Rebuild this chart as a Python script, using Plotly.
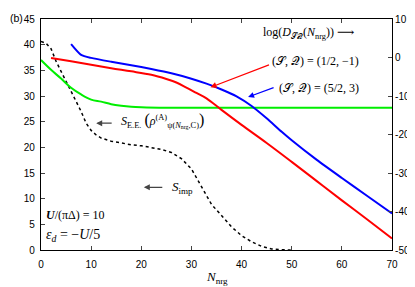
import plotly.graph_objects as go

# ---- data ----
red_n = [2, 6, 10, 14, 18, 22, 25, 27, 29, 31, 33, 36, 40, 45, 50, 55, 60, 65, 70]
red_logd = [-0.1, -1.0, -1.9, -2.8, -3.6, -4.5, -5.6, -6.5, -7.8, -9.2, -10.6, -13.6,
            -17.5, -22.2, -27.1, -32.1, -37.1, -42.0, -47.0]

blue_n = [6, 8, 10, 14, 18, 22, 26, 30, 33, 36, 39, 42, 45, 48, 50, 55, 60, 65, 70]
blue_logd = [3.5, 0.7, -0.1, -1.1, -2.0, -3.0, -4.1, -5.5, -6.8, -8.3, -10.1, -12.6,
             -15.8, -19.3, -21.5, -26.6, -31.3, -35.9, -40.5]

green_n = [0, 2, 4, 6, 8, 10, 12, 14, 16, 18, 20, 25, 30, 40, 50, 60, 70]
green_see = [37.0, 35.1, 33.4, 31.6, 30.3, 29.3, 28.9, 28.4, 28.1, 27.9, 27.8, 27.7,
             27.7, 27.7, 27.7, 27.7, 27.7]

simp_n = [0, 1, 2, 3, 4, 5, 6, 7, 8, 9, 10, 11, 12, 14, 16, 18, 20, 22, 24, 26, 28,
          30, 32, 34, 36, 38, 40, 42, 44, 46, 48, 50]
simp = [40.6, 40.3, 39.2, 36.8, 34.8, 32.9, 31.0, 29.0, 27.0, 24.7, 23.3, 22.4, 21.8,
        21.2, 20.8, 20.5, 20.3, 20.0, 19.6, 19.0, 17.8, 15.8, 12.2, 8.9, 6.7, 4.5,
        2.8, 1.6, 0.7, 0.2, 0.05, 0.0]

x_ticks = [0, 10, 20, 30, 40, 50, 60, 70]
yl_ticks = [0, 5, 10, 15, 20, 25, 30, 35, 40, 45]
yr_ticks = [-50, -40, -30, -20, -10, 0, 10]
yr_labels = ["-50", "-40", "-30", "-20", "-10", "0", "10"]

SERIF = "Liberation Serif, DejaVu Serif, serif"
SANS = "Liberation Sans, Arial, sans-serif"

fig = go.Figure()
fig.add_trace(go.Scatter(x=simp_n, y=simp, mode="lines", yaxis="y",
                         line=dict(color="black", width=1.5, dash="dot"), showlegend=False))
fig.add_trace(go.Scatter(x=green_n, y=green_see, mode="lines", yaxis="y",
                         line=dict(color="#00ee00", width=2, shape="spline"), showlegend=False))
fig.add_trace(go.Scatter(x=red_n, y=red_logd, mode="lines", yaxis="y2",
                         line=dict(color="#ff0000", width=2, shape="spline"), showlegend=False))
fig.add_trace(go.Scatter(x=blue_n, y=blue_logd, mode="lines", yaxis="y2",
                         line=dict(color="#0000ff", width=2, shape="spline", smoothing=0.6),
                         showlegend=False))

ann = []
def txt(x, y, s, size=12, xanchor="left", xref="x", yref="y"):
    ann.append(dict(x=x, y=y, xref=xref, yref=yref, text=s, showarrow=False,
                    xanchor=xanchor, yanchor="middle",
                    font=dict(family=SERIF, size=size, color="black")))

def arrow(x, y, ax, ay, color):
    ann.append(dict(x=x, y=y, xref="x", yref="y", ax=ax, ay=ay, axref="pixel", ayref="pixel",
                    text="", showarrow=True, arrowhead=2, arrowsize=1, arrowwidth=1.2,
                    arrowcolor=color))

txt(43.9, 42.2, "log(<i>D</i><sub>𝒮𝒬</sub>(<i>N</i><sub>nrg</sub>)) ⟶", 12)
txt(45.6, 36.85, "(𝒮, 𝒬) = (1/2, −1)", 12)
txt(47.0, 31.5, "(𝒮, 𝒬) = (5/2, 3)", 12)
txt(15.5, 25.3, "<i>S</i><sub>E.E.</sub> <span style='font-size:16px'>(</span><i>ρ</i><sup>(A)</sup><sub>ψ(<i>N</i><sub>nrg</sub>,C)</sub><span style='font-size:16px'>)</span>", 12)
txt(25.8, 12.2, "<i>S</i><sub>imp</sub>", 13)
txt(0.5, 6.8, "<b><i>U</i></b>/(πΔ) = 10", 12)
txt(0.5, 2.85, "<i>ε</i><sub><i>d</i></sub> = −<i>U</i>/5", 14)

arrow(33.8, 31.7, 60, -23, "#ff0000")
arrow(41.3, 29.8, 27, -10, "#0000ff")
arrow(11.0, 24.7, 17, 0, "#444444")
arrow(20.5, 12.2, 20, 0, "#444444")

ann.append(dict(x=0, y=1, xref="paper", yref="paper", text="(b)", showarrow=False,
                xanchor="left", yanchor="middle", xshift=-33, yshift=1,
                font=dict(family=SANS, size=10.5, color="black")))
ann.append(dict(x=0.5, y=0, xref="paper", yref="paper", text="<i>N</i><sub>nrg</sub>",
                showarrow=False, xanchor="center", yanchor="middle", yshift=-27,
                font=dict(family=SERIF, size=13, color="black")))

# page body has an 8px margin, so the figure is sized to fit the 415x287 window
fig.update_layout(
    width=407, height=279,
    margin=dict(l=33, r=20, t=5, b=37),
    paper_bgcolor="white", plot_bgcolor="white",
    annotations=ann,
    xaxis=dict(range=[0, 70], tickvals=x_ticks, ticks="inside", ticklen=4,
               showline=True, linecolor="black", linewidth=1.2, mirror="ticks",
               showgrid=False, zeroline=False, ticklabelstandoff=5,
               tickfont=dict(family=SANS, size=10, color="black")),
    yaxis=dict(range=[0, 45], tickvals=yl_ticks, ticks="inside", ticklen=4,
               showline=True, linecolor="black", linewidth=1.2, mirror=True,
               showgrid=False, zeroline=False, ticklabelstandoff=3,
               tickfont=dict(family=SANS, size=10, color="black")),
    yaxis2=dict(range=[-50, 10], tickvals=yr_ticks, ticktext=yr_labels,
                ticks="inside", ticklen=4,
                overlaying="y", side="right",
                showline=True, linecolor="black", linewidth=1.2,
                showgrid=False, zeroline=False,
                tickfont=dict(family=SANS, size=10, color="black")),
)

fig.write_html("out.html")
